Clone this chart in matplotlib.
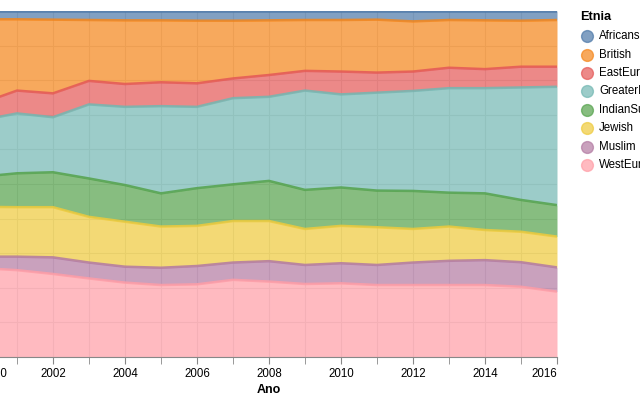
import numpy as np
import matplotlib
matplotlib.use("Agg")
import matplotlib.pyplot as plt

plt.rcParams['font.family'] = ['Liberation Sans', 'DejaVu Sans']

anos = list(range(2000, 2017))
etnias = ["Africans", "British", "EastEuropean", "GreaterIndian",
          "IndianSubContinent", "Jewish", "Muslim", "WestEuropean"]

# percent shares per year
africans = [2.4, 2.4, 2.5, 2.6, 2.7, 2.7, 2.8, 2.8, 2.7, 2.6, 2.6, 2.5, 3.0, 2.6, 2.7, 2.8, 2.6]
british = [24.3, 20.6, 21.3, 17.6, 18.4, 17.9, 18.1, 16.7, 15.8, 14.7, 14.9, 15.3, 14.5, 13.8, 14.1, 13.3, 13.5]
easteur = [4.9, 6.6, 6.9, 6.8, 6.6, 6.9, 6.8, 5.7, 6.3, 5.7, 6.6, 5.8, 5.6, 5.9, 5.5, 6.0, 5.8]
greater = [16.3, 17.3, 15.9, 21.4, 22.6, 25.2, 23.5, 24.9, 24.3, 28.7, 26.9, 28.3, 28.9, 30.2, 30.4, 32.5, 34.2]
indiansub = [8.7, 9.8, 10.1, 11.1, 10.6, 9.6, 10.9, 10.6, 11.6, 11.3, 11.1, 10.6, 11.0, 9.8, 10.6, 9.2, 9.1]
jewish = [14.4, 14.3, 14.5, 13.2, 13.0, 11.9, 11.6, 12.0, 11.6, 10.4, 10.8, 10.9, 9.7, 9.9, 8.7, 8.8, 8.9]
muslim = [3.3, 3.9, 4.8, 4.6, 4.6, 5.0, 5.3, 5.0, 5.9, 5.5, 5.8, 5.8, 6.5, 7.0, 7.2, 7.1, 7.0]
westeu = [25.7, 25.1, 24.0, 22.7, 21.5, 20.8, 21.0, 22.3, 21.8, 21.1, 21.3, 20.8, 20.8, 20.8, 20.8, 20.3, 18.9]

cores = ["#4c78a8", "#f58518", "#e45756", "#72b7b2",
         "#54a24b", "#eeca3b", "#b279a2", "#ff9da6"]

series = [africans, british, easteur, greater, indiansub, jewish, muslim, westeu]
vals = np.array(series, dtype=float)
vals = vals / vals.sum(axis=0)

fig = plt.figure(figsize=(6.4, 4.0), dpi=100)
ax = fig.add_axes([-19 / 640, 43 / 400, 576 / 640, 346 / 400])

# stack from the bottom: WestEuropean first
x = np.array(anos)
base = np.zeros(len(anos))
for i in range(len(etnias) - 1, -1, -1):
    top = base + vals[i]
    ax.fill_between(x, base, top, color=cores[i], alpha=0.7, lw=0, zorder=2)
    ax.plot(x, top, color=cores[i], lw=1.8, alpha=0.85, zorder=3, solid_capstyle='butt')
    base = top

ax.set_xlim(2000, 2016)
ax.set_ylim(0, 1)
ax.set_xticks(anos, minor=True)
ax.set_xticks(range(2000, 2017, 2))
ax.set_yticks(np.arange(0, 1.01, 0.1))
ax.grid(True, which='both', color='#dddddd', lw=0.8, zorder=0)
ax.set_axisbelow(True)
for s in ['top', 'right', 'left']:
    ax.spines[s].set_visible(False)
ax.spines['bottom'].set_color('#888888')
ax.tick_params(axis='x', which='both', length=5, color='#888888', labelsize=8.3, pad=3)
ax.tick_params(axis='x', which='minor', labelbottom=False)
ax.tick_params(axis='y', left=False, labelleft=False)
labs = ax.get_xticklabels()
labs[0].set_horizontalalignment('left')
labs[-1].set_horizontalalignment('right')
ax.set_xlabel("Ano", fontsize=9, fontweight='bold', labelpad=3)

# legend
fig.text(580 / 640, 1 - 17 / 400, "Etnia", fontsize=9.2, fontweight='bold', va='center', ha='left')
ys = [36, 54.5, 73, 91.3, 110, 128.3, 146.7, 165]
for nome, cor, yy in zip(etnias, cores, ys):
    fig.add_artist(plt.Line2D([587 / 640], [1 - yy / 400], marker='o', markersize=8.5,
                              markerfacecolor=cor, markeredgecolor=cor, alpha=0.7,
                              transform=fig.transFigure, linestyle='none'))
    fig.text(599 / 640, 1 - yy / 400, nome, fontsize=8.3, va='center', ha='left')

plt.savefig("out.png", dpi=100)
